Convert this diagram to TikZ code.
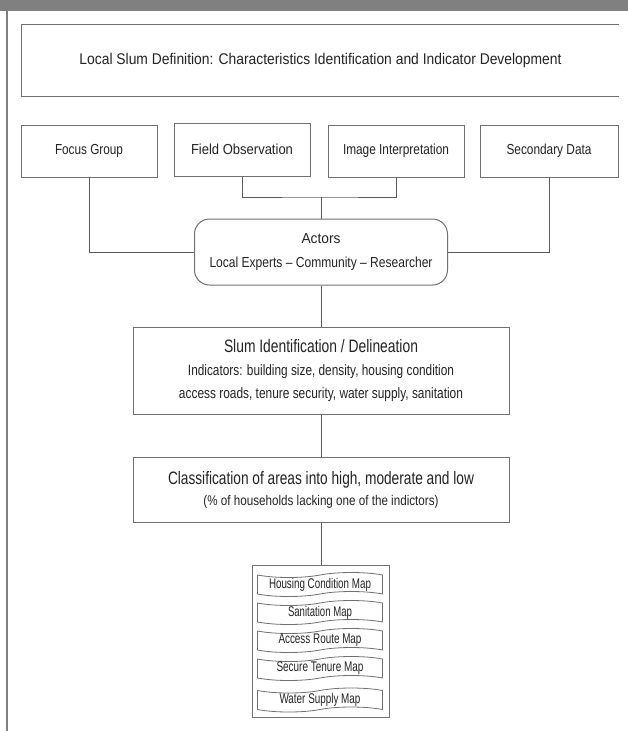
\documentclass[tikz,border=0pt]{standalone}
\usepackage{fontspec}
\setmainfont{Liberation Sans}
\usepackage{graphicx}
\usetikzlibrary{shapes.symbols}
\definecolor{headgray}{HTML}{808080}
\definecolor{boxgray}{HTML}{707070}
\definecolor{linegray}{HTML}{5A5A5A}
\definecolor{txt}{HTML}{222222}
\newcommand\fw[2]{\resizebox{#1pt}{\height}{#2}}
\begin{document}
\begin{tikzpicture}[x=1pt,y=-1pt,
  box/.style={draw=boxgray, line width=1pt, rectangle, inner sep=0pt, text=txt, align=center},
  conn/.style={draw=linegray, line width=0.9pt},
  maptape/.style={tape, draw=boxgray, line width=0.8pt, tape bend top=in and out, tape bend bottom=in and out,
    tape bend height=5pt, minimum width=125pt, minimum height=24pt, inner sep=0pt, text=txt,
    font=\fontsize{14}{16}\selectfont}]
\useasboundingbox (0,0) rectangle (628,731);
% header bar and side rule
\fill[headgray] (0,0) rectangle (628,11);
\draw[draw=gray, line width=1.6pt] (7,11) -- (7,731);
% top box
\node[inner sep=0pt, minimum width=597pt, minimum height=71pt, text=txt] (top) at (320.5,60.5)
  {\fontsize{15.5}{18}\selectfont\fw{482}{Local Slum Definition: Characteristics Identification and Indicator Development}};
\draw[draw=boxgray, line width=1pt] (top.north east) -- (top.north west) -- (top.south west) -- (top.south east);
% source boxes
\node[box, minimum width=136pt, minimum height=52pt] (fg) at (89,151)
  {\fontsize{14.5}{16}\selectfont\fw{68}{Focus Group}};
\node[box, minimum width=136pt, minimum height=53pt] (fo) at (242,149.5)
  {\fontsize{14.5}{16}\selectfont\fw{102}{Field Observation}};
\node[box, minimum width=136pt, minimum height=52pt] (ii) at (396,151)
  {\fontsize{14.5}{16}\selectfont\fw{106}{Image Interpretation}};
\node[box, minimum width=138pt, minimum height=52pt] (sd) at (549,151)
  {\fontsize{14.5}{16}\selectfont\fw{85}{Secondary Data}};
% actors
\node[box, rounded corners=15pt, minimum width=253pt, minimum height=66pt,
  font=\fontsize{14.5}{24}\selectfont] (act) at (321,252)
  {\fw{39}{Actors}\\\fw{223}{Local Experts -- Community -- Researcher}};
% slum identification
\node[box, minimum width=376pt, minimum height=87pt, font=\fontsize{15}{23}\selectfont] (slum) at (321,370.5)
  {{\fontsize{18}{23}\selectfont\fw{194}{Slum Identification / Delineation}}\\
   \fw{266}{Indicators: building size, density, housing condition}\\
   \fw{284}{access roads, tenure security, water supply, sanitation}};
% classification
\node[box, minimum width=376pt, minimum height=65pt, font=\fontsize{14}{21}\selectfont] (cls) at (321,489.5)
  {{\fontsize{18}{21}\selectfont\fw{306}{Classification of areas into high, moderate and low}}\\
   \fw{235}{(\% of households lacking one of the indictors)}};
% maps
\node[box, minimum width=137pt, minimum height=152pt] (maps) at (321,641) {};
\node[maptape] (m1) at (320,584.5) {\fw{102}{Housing Condition Map}};
\node[maptape] (m2) at (320,612.5) {\fw{64}{Sanitation Map}};
\node[maptape] (m3) at (320,640.5) {\fw{83}{Access Route Map}};
\node[maptape] (m4) at (320,668.5) {\fw{87}{Secure Tenure Map}};
\node[maptape] (m5) at (320,700) {\fw{81}{Water Supply Map}};
% connectors
\coordinate (j) at (321,197);
\draw[conn] (fo.south) |- (j) -| (ii.south);
\draw[conn] (j) -- (act.north);
\draw[conn] (fg.south) |- (act.west);
\draw[conn] (sd.south) |- (act.east);
\draw[conn] (act.south) -- (slum.north);
\draw[conn] (slum.south) -- (cls.north);
\draw[conn] (cls.south) -- (maps.north);
\end{tikzpicture}
\end{document}
